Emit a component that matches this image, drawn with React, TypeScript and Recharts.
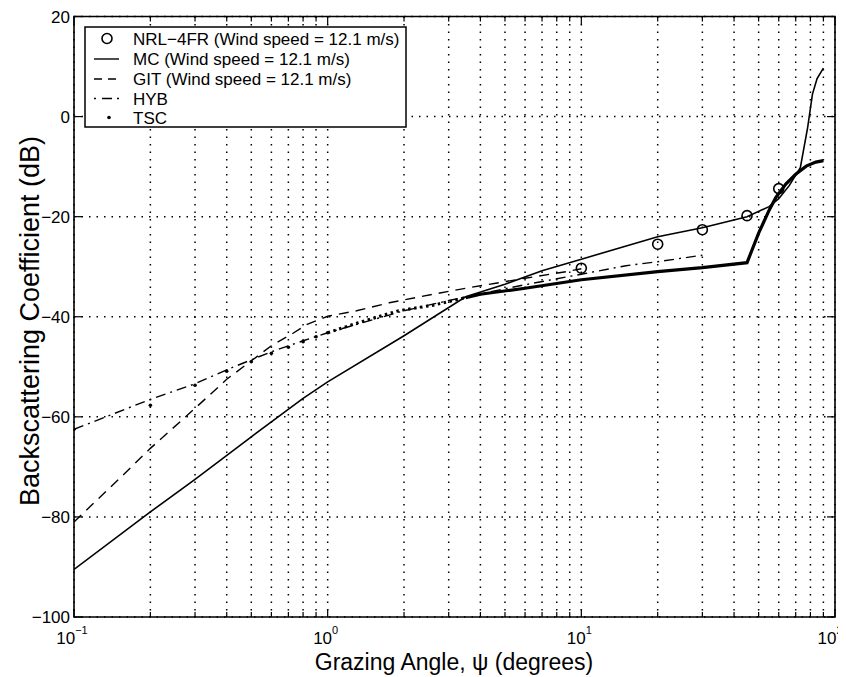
import React from 'react';
import {
  ComposedChart,
  Line,
  Scatter,
  XAxis,
  YAxis,
  CartesianGrid,
  ReferenceArea,
} from 'recharts';

// ---------------- data ----------------
const xTicks = [
  0.1, 0.2, 0.3, 0.4, 0.5, 0.6, 0.7, 0.8, 0.9,
  1, 2, 3, 4, 5, 6, 7, 8, 9,
  10, 20, 30, 40, 50, 60, 70, 80, 90, 100,
];
const decadeLabels: Record<string, string> = { '0.1': '−1', '1': '0', '10': '1', '100': '2' };
const yTicks = [-100, -80, -60, -40, -20, 0, 20];

const nrlAngles = [10, 20, 30, 45, 60];
const nrlValues = [-30.3, -25.5, -22.6, -19.8, -14.4];

const mcAngles = [0.1, 0.2, 0.3, 0.5, 0.8, 1, 2, 3.5, 5, 7, 10, 20, 30, 45, 55, 60, 66, 73, 78, 81.5, 85, 90];
const mcValues = [-90.5, -79, -72.5, -64, -56.3, -53, -43.8, -36, -33.5, -30.8, -28.5, -24, -22.2, -20, -18, -16.4, -13.8, -10.2, -2.2, 4.5, 7.6, 9.7];

const gitAngles = [0.1, 0.15, 0.2, 0.3, 0.4, 0.5, 0.6, 0.73, 0.83, 1, 1.3, 1.75, 2.6, 3.7, 4.6, 6, 8.7, 10];
const gitValues = [-81, -72.5, -66.3, -58.3, -52.5, -48.8, -45.8, -43.3, -41.5, -39.9, -38.8, -37.2, -35.5, -34.1, -33.3, -32.3, -31.0, -30.4];

const hybAngles = [0.1, 0.2, 0.3, 0.4, 0.5, 0.6, 0.8, 1, 2, 3.5, 6, 10, 15, 20, 30];
const hybValues = [-62.5, -56.5, -53.4, -50.6, -48.6, -47, -44.8, -43.2, -38.8, -36, -33.6, -31.5, -29.8, -29, -27.7];

const tscDotAngles = [0.1, 0.2, 0.3, 0.4, 0.5, 0.6, 0.7, 0.8, 0.9, 1.0];
const tscDotValues = [-62.5, -57.7, -53.7, -50.9, -49, -47.3, -46.1, -45, -44, -43.2];

const tscDenseAngles = [1, 1.3, 1.9, 2.6, 3.5];
const tscDenseValues = [-43.2, -41.3, -38.8, -37.7, -36.2];

const tscAngles = [3.5, 4, 6, 10, 20, 30, 45, 50, 55, 58.4, 64, 70, 77, 84, 90];
const tscValues = [-36.2, -35.5, -34.3, -32.6, -31, -30.2, -29.2, -23.3, -18.7, -16.2, -13.5, -11.5, -9.9, -9.1, -8.8];

const legendLabels = [
  'NRL−4FR (Wind speed = 12.1 m/s)',
  'MC (Wind speed = 12.1 m/s)',
  'GIT (Wind speed = 12.1 m/s)',
  'HYB',
  'TSC',
];

const zip = (xs: number[], ys: number[]) => xs.map((x, i) => ({ x, y: ys[i] }));

const nrlData = zip(nrlAngles, nrlValues);
const mcData = zip(mcAngles, mcValues);
const gitData = zip(gitAngles, gitValues);
const hybData = zip(hybAngles, hybValues);
const tscDotData = zip(tscDotAngles, tscDotValues);
const tscDenseData = zip(tscDenseAngles, tscDenseValues);
const tscData = zip(tscAngles, tscValues);

// ---------------- layout ----------------
const W = 838;
const H = 669;
const PL = 66;
const PT = 8.5;
const PR = 827;
const PB = 609;
const AX = 30;
const FONT = '"Liberation Sans", Arial, Helvetica, sans-serif';
const INK = '#000';

const XTick = (props: any) => {
  const { x, payload } = props;
  const v = payload.value;
  const lab = decadeLabels[String(v)];
  const len = lab ? 8 : 5;
  const shift = v === 100 ? -5 : -2;
  return (
    <g>
      <line x1={x} x2={x} y1={PB} y2={PB - len} stroke={INK} strokeWidth={1.2} />
      <line x1={x} x2={x} y1={PT} y2={PT + len} stroke={INK} strokeWidth={1.2} />
      {lab && (
        <text x={x + shift} y={PB + 27} textAnchor="middle" fontSize={17} fontFamily={FONT} fill={INK}>
          <tspan>10</tspan>
          <tspan dy={-10} fontSize={11}>{lab}</tspan>
        </text>
      )}
    </g>
  );
};

const YTick = (props: any) => {
  const { y, payload } = props;
  const v = payload.value;
  return (
    <g>
      <line x1={PL} x2={PL + 8} y1={y} y2={y} stroke={INK} strokeWidth={1.2} />
      <line x1={PR} x2={PR - 8} y1={y} y2={y} stroke={INK} strokeWidth={1.2} />
      <text x={PL - 4} y={y + 6} textAnchor="end" fontSize={17} fontFamily={FONT} fill={INK}>
        {v < 0 ? `−${Math.abs(v)}` : `${v}`}
      </text>
    </g>
  );
};

const OpenCircle = (p: any) => (
  <circle cx={p.cx} cy={p.cy} r={5} fill="none" stroke={INK} strokeWidth={1.6} />
);
const SmallDot = (p: any) => <circle cx={p.cx} cy={p.cy} r={1.8} fill={INK} />;

const LegendBox = () => {
  const rows = [30.5, 51, 71, 90.5, 109.5];
  const sx1 = 86;
  const sx2 = 111;
  const sc = 99;
  const tx = 125;
  return (
    <svg
      width={W}
      height={H}
      style={{ position: 'absolute', left: 0, top: 0, pointerEvents: 'none' }}
    >
      <rect x={77} y={19} width={321} height={100} fill="#fff" stroke={INK} strokeWidth={1.5} />
      <circle cx={sc} cy={rows[0]} r={5} fill="none" stroke={INK} strokeWidth={1.6} />
      <line x1={sx1} x2={sx2} y1={rows[1]} y2={rows[1]} stroke={INK} strokeWidth={1.4} />
      <line x1={sx1} x2={sx2} y1={rows[2]} y2={rows[2]} stroke={INK} strokeWidth={1.4} strokeDasharray="8 6" />
      <line x1={sx1} x2={sx2} y1={rows[3]} y2={rows[3]} stroke={INK} strokeWidth={1.4} strokeDasharray="2 6 10 5" />
      <circle cx={sc + 2} cy={rows[4]} r={1.8} fill={INK} />
      {legendLabels.map((t, i) => (
        <text key={t} x={tx} y={rows[i] + 6} fontSize={17} fontFamily={FONT} fill={INK}>
          {t}
        </text>
      ))}
    </svg>
  );
};

export default function App() {
  return (
    <div style={{ position: 'relative', width: W, height: H, background: '#fff' }}>
      <ComposedChart
        width={W}
        height={H}
        margin={{ top: PT, right: W - PR, bottom: H - PB - AX, left: PL - AX }}
      >
        <CartesianGrid stroke={INK} strokeWidth={1.5} strokeDasharray="1.5 6" />
        <XAxis
          dataKey="x"
          type="number"
          scale="log"
          domain={[0.1, 100]}
          ticks={xTicks}
          interval={0}
          allowDataOverflow
          height={AX}
          axisLine={false}
          tickLine={false}
          tick={<XTick />}
        />
        <YAxis
          dataKey="y"
          type="number"
          domain={[-100, 20]}
          ticks={yTicks}
          interval={0}
          allowDataOverflow
          width={AX}
          axisLine={false}
          tickLine={false}
          tick={<YTick />}
        />
        <ReferenceArea
          x1={0.1}
          x2={100}
          y1={-100}
          y2={20}
          fill="none"
          fillOpacity={0}
          stroke={INK}
          strokeWidth={1.6}
          ifOverflow="visible"
        />
        <Line data={tscData} dataKey="y" type="linear" stroke={INK} strokeWidth={3.2} dot={false} activeDot={false} isAnimationActive={false} />
        <Line data={tscDenseData} dataKey="y" type="linear" stroke={INK} strokeWidth={3} strokeDasharray="2.5 3.5" dot={false} activeDot={false} isAnimationActive={false} />
        <Scatter data={tscDotData} dataKey="y" shape={<SmallDot />} isAnimationActive={false} />
        <Line data={hybData} dataKey="y" type="linear" stroke={INK} strokeWidth={1.4} strokeDasharray="10 5 2 5" dot={false} activeDot={false} isAnimationActive={false} />
        <Line data={gitData} dataKey="y" type="linear" stroke={INK} strokeWidth={1.4} strokeDasharray="10 7" dot={false} activeDot={false} isAnimationActive={false} />
        <Line data={mcData} dataKey="y" type="linear" stroke={INK} strokeWidth={1.6} dot={false} activeDot={false} isAnimationActive={false} />
        <Scatter data={nrlData} dataKey="y" shape={<OpenCircle />} isAnimationActive={false} />
        <text x={446} y={662} textAnchor="middle" fontSize={23} fontFamily={FONT} fill={INK}>
          Grazing Angle, ψ (degrees)
        </text>
        <text
          x={31}
          y={313}
          textAnchor="middle"
          fontSize={27}
          fontFamily={FONT}
          fill={INK}
          transform="rotate(-90, 31, 313)"
        >
          Backscattering Coefficient (dB)
        </text>
      </ComposedChart>
      <LegendBox />
    </div>
  );
}
